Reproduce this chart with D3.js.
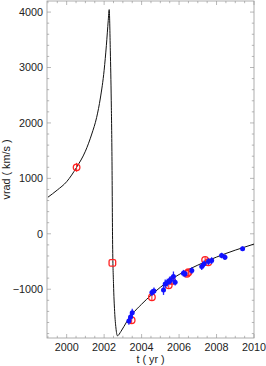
<!DOCTYPE html>
<html>
<head>
<meta charset="utf-8">
<script src="https://cdn.jsdelivr.net/npm/d3@7"></script>
<style>
  body { margin: 0; background: #fff; }
  text { font-family: "Liberation Sans", Arial, sans-serif; }
</style>
</head>
<body>
<div id="chart"></div>
<script>
// model curve (t in yr, v in km/s)
const curveT = [1999.0, 1999.5, 2000.0, 2000.53, 2001.0, 2001.34, 2001.6, 2001.8, 2002.0, 2002.12, 2002.22, 2002.27,
  2002.33, 2002.38, 2002.42, 2002.45, 2002.5, 2002.56, 2002.63, 2002.71, 2002.9, 2003.2, 2003.5, 2004.0,
  2004.5, 2005.0, 2005.5, 2006.0, 2006.5, 2007.0, 2007.5, 2008.0, 2008.5, 2009.0, 2009.5, 2010.0];
const curveV = [660, 790, 940, 1200, 1490, 1800, 2100, 2450, 2950, 3400, 3850, 4045,
  3300, 2400, 1300, -100, -900, -1400, -1700, -1840, -1760, -1590, -1450, -1270,
  -1110, -965, -840, -735, -645, -565, -490, -420, -355, -295, -240, -185];

// red open circles
const redT = [2000.53, 2003.47, 2004.55, 2005.45, 2005.62, 2006.42, 2006.5, 2007.39, 2007.56];
const redV = [1199, -1560, -1145, -930, -850, -720, -695, -470, -512];
const redErr = [80, 60, 60, 60, 60, 60, 60, 60, 60];
// red square point
const sqT = [2002.44];
const sqV = [-525];

// blue filled points
const blueT = [2003.32, 2003.41, 2003.5, 2004.55, 2004.66, 2005.17, 2005.26, 2005.37, 2005.49, 2005.54, 2005.7,
  2005.79, 2006.23, 2006.32, 2006.68, 2007.21, 2007.34, 2007.57, 2007.74, 2008.27, 2008.45, 2009.39];
const blueV = [-1573, -1501, -1423, -1061, -1031, -1013, -904, -880, -845, -837, -770,
  -873, -711, -723, -663, -591, -542, -501, -483, -392, -421, -271];
const blueErr = [70, 70, 70, 60, 60, 90, 80, 70, 70, 70, 90, 60, 60, 60, 60, 60, 60, 60, 60, 50, 50, 40];

const xMajor = [2000, 2002, 2004, 2006, 2008, 2010];
const yMajor = [-1000, 0, 1000, 2000, 3000, 4000];

const margin = { top: 1, right: 12, bottom: 28, left: 47 },
  width = 266 - margin.left - margin.right,
  height = 366 - margin.top - margin.bottom;

const x = d3.scaleLinear().domain([1998.95, 2010]).range([0, width]);
const y = d3.scaleLinear().domain([-1880, 4200]).range([height, 0]);

const svg = d3.select("#chart").append("svg")
  .attr("width", 266)
  .attr("height", 366)
  .append("g")
  .attr("transform", "translate(" + margin.left + "," + margin.top + ")");

const frameCol = "#999";
const fs = 10.8;
const minorX = d3.range(1999, 2010.01, 0.5).filter(d => xMajor.indexOf(d) < 0);
const minorY = d3.range(-1800, 4200, 200).filter(d => yMajor.indexOf(d) < 0);

// frame ticks (inward, all four sides)
const ticks = svg.append("g").attr("stroke", frameCol).attr("stroke-width", 0.7);
xMajor.concat(minorX).forEach(function (d) {
  const len = xMajor.indexOf(d) >= 0 ? 4 : 2.2;
  ticks.append("line").attr("x1", x(d)).attr("x2", x(d)).attr("y1", height).attr("y2", height - len);
  ticks.append("line").attr("x1", x(d)).attr("x2", x(d)).attr("y1", 0).attr("y2", len);
});
yMajor.concat(minorY).forEach(function (d) {
  const len = yMajor.indexOf(d) >= 0 ? 4 : 2.2;
  ticks.append("line").attr("y1", y(d)).attr("y2", y(d)).attr("x1", 0).attr("x2", len);
  ticks.append("line").attr("y1", y(d)).attr("y2", y(d)).attr("x1", width).attr("x2", width - len);
});

svg.append("rect")
  .attr("width", width).attr("height", height)
  .attr("fill", "none").attr("stroke", frameCol).attr("stroke-width", 0.8);

// tick labels
svg.append("g").selectAll("text").data(xMajor).join("text")
  .attr("x", d => x(d)).attr("y", height + 13)
  .attr("text-anchor", "middle").attr("font-size", fs).attr("fill", "#222")
  .text(d => d);
svg.append("g").selectAll("text").data(yMajor).join("text")
  .attr("x", -4).attr("y", d => y(d) + 3.8)
  .attr("text-anchor", "end").attr("font-size", fs).attr("fill", "#222")
  .text(d => d < 0 ? "\u2212" + Math.abs(d) : d);

// axis titles
svg.append("text")
  .attr("transform", "translate(" + (width / 2) + "," + (height + 25) + ")")
  .attr("text-anchor", "middle").attr("font-size", fs).attr("fill", "#222")
  .text("t ( yr )");
svg.append("text")
  .attr("transform", "rotate(-90)")
  .attr("x", -(height / 2)).attr("y", -37)
  .attr("text-anchor", "middle").attr("font-size", fs).attr("fill", "#222")
  .text("vrad ( km/s )");

const plot = svg.append("g");
plot.append("clipPath").attr("id", "clip").append("rect").attr("width", width).attr("height", height);

// model line
const line = d3.line().x(d => x(d[0])).y(d => y(d[1])).curve(d3.curveMonotoneX);
plot.append("path")
  .datum(d3.zip(curveT, curveV))
  .attr("clip-path", "url(#clip)")
  .attr("fill", "none").attr("stroke", "#111").attr("stroke-width", 1)
  .attr("d", line);

// red points
const red = d3.zip(redT, redV, redErr);
plot.append("g").selectAll("line").data(red).join("line")
  .attr("x1", d => x(d[0])).attr("x2", d => x(d[0]))
  .attr("y1", d => y(d[1] - d[2])).attr("y2", d => y(d[1] + d[2]))
  .attr("stroke", "#f22").attr("stroke-width", 1);
plot.append("g").selectAll("circle").data(red).join("circle")
  .attr("cx", d => x(d[0])).attr("cy", d => y(d[1])).attr("r", 3.3)
  .attr("fill", "none").attr("stroke", "#f22").attr("stroke-width", 1.3);
plot.append("g").selectAll("rect").data(d3.zip(sqT, sqV)).join("rect")
  .attr("x", d => x(d[0]) - 3.3).attr("y", d => y(d[1]) - 3.3)
  .attr("width", 6.6).attr("height", 6.6).attr("rx", 1.5)
  .attr("fill", "none").attr("stroke", "#f22").attr("stroke-width", 1.3);

// blue points
const blue = d3.zip(blueT, blueV, blueErr);
plot.append("g").selectAll("line").data(blue).join("line")
  .attr("x1", d => x(d[0])).attr("x2", d => x(d[0]))
  .attr("y1", d => y(d[1] - d[2])).attr("y2", d => y(d[1] + d[2]))
  .attr("stroke", "#22f").attr("stroke-width", 1.3);
plot.append("g").selectAll("circle").data(blue).join("circle")
  .attr("cx", d => x(d[0])).attr("cy", d => y(d[1])).attr("r", 2.5)
  .attr("fill", "#11f");
</script>
</body>
</html>
